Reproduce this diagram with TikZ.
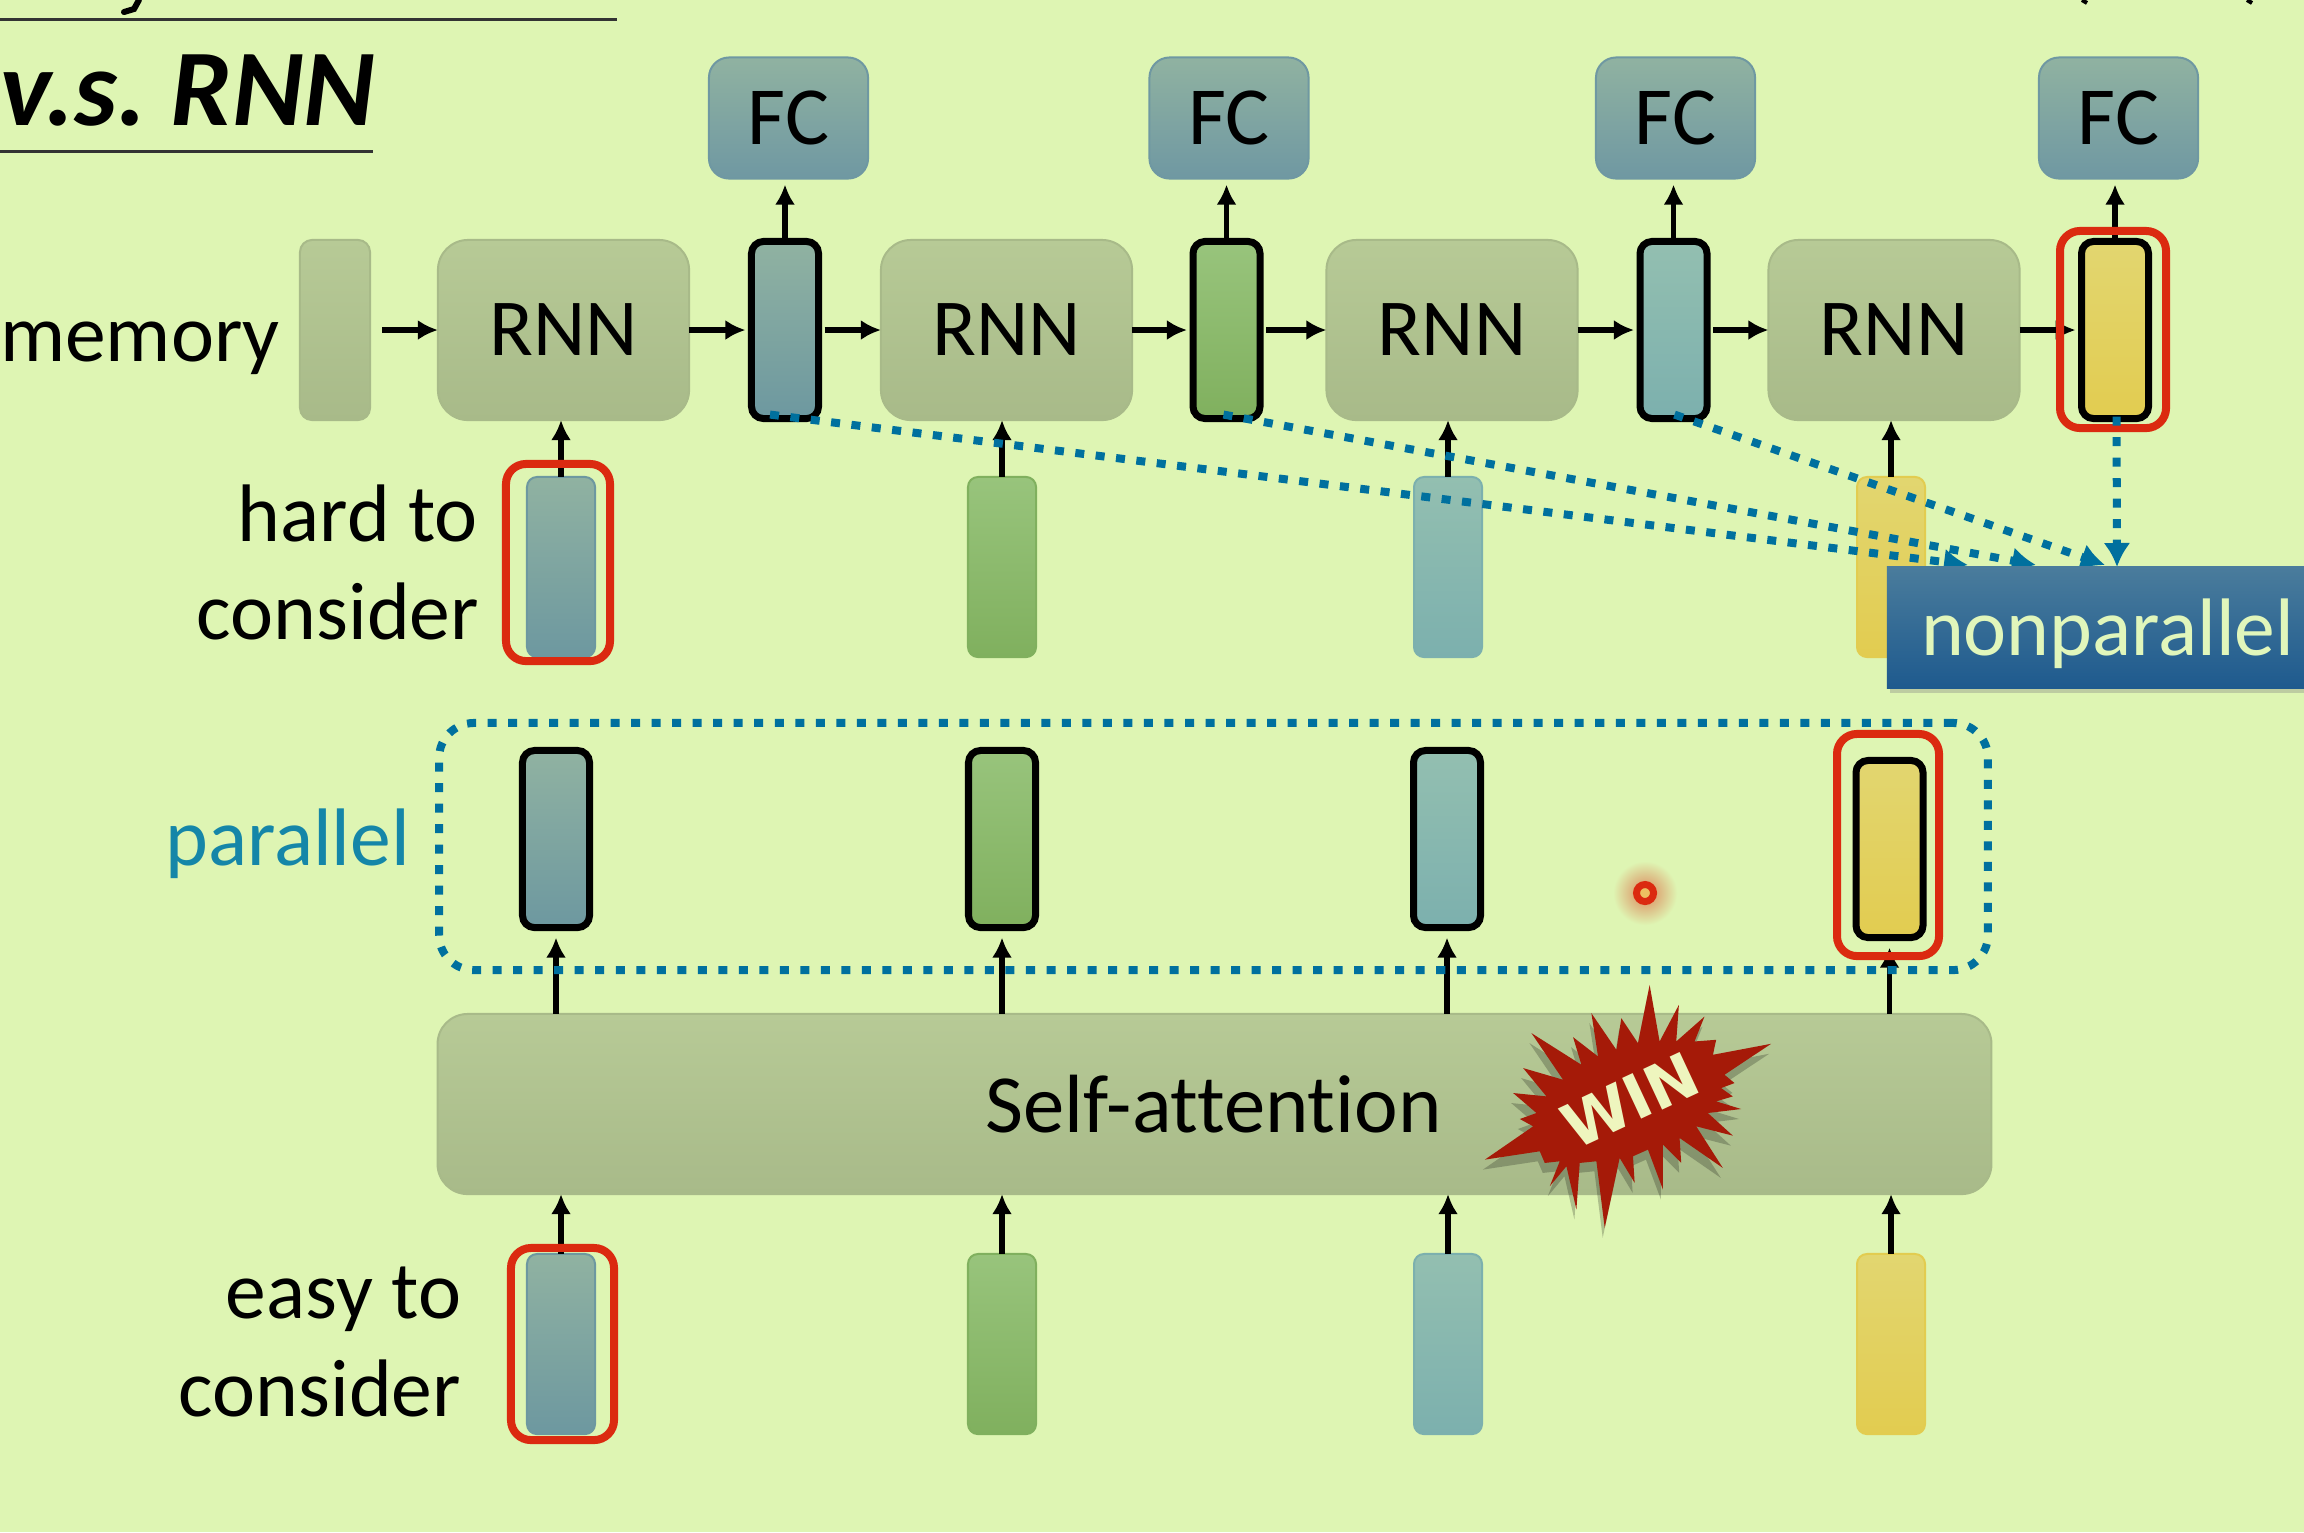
\documentclass[tikz,border=0pt]{standalone}
\usepackage{fontspec}
\setmainfont[Ligatures=NoCommon]{Carlito}
\newfontfamily\winfont{DejaVu Sans}
\usetikzlibrary{arrows.meta,shadows}
\definecolor{fondvert}{HTML}{DEF5B3}
\definecolor{bleudots}{HTML}{00709E}
\definecolor{rougecadre}{HTML}{DB2A10}
\definecolor{rougewin}{HTML}{A51A08}
\definecolor{textpar}{HTML}{1586A8}
\definecolor{textwin}{HTML}{EEF5BE}
\definecolor{npTop}{HTML}{4A7C9C}
\definecolor{npBot}{HTML}{1E5A8E}
\definecolor{griseTop}{HTML}{B7CA96}
\definecolor{griseBot}{HTML}{A8BA89}
\definecolor{fcTop}{HTML}{90B2A1}
\definecolor{fcBot}{HTML}{6F98A2}
\definecolor{bleuTop}{HTML}{90B2A1}
\definecolor{bleuBot}{HTML}{6D98A0}
\definecolor{vertTop}{HTML}{98C47C}
\definecolor{vertBot}{HTML}{80B05E}
\definecolor{turqTop}{HTML}{93BFB0}
\definecolor{turqBot}{HTML}{7CB0AE}
\definecolor{jauneTop}{HTML}{E2D670}
\definecolor{jauneBot}{HTML}{E2CC50}
\tikzset{
  bloc/.style={inner sep=0,outer sep=0,rounded corners=0.3cm,draw=#1Bot,top color=#1Top,bottom color=#1Bot,line width=0.02cm},
  vecteur/.style={inner sep=0,outer sep=0,rounded corners=0.1cm,minimum width=0.68cm,minimum height=1.8cm,line width=0.02cm,draw=#1Bot,top color=#1Top,bottom color=#1Bot},
  vecteurnoir/.style={inner sep=0,outer sep=0,rounded corners=0.12cm,minimum width=0.67cm,minimum height=1.77cm,line width=0.07cm,draw=black,top color=#1Top,bottom color=#1Bot},
  cadrerouge/.style={inner sep=0,outer sep=0,rounded corners=0.2cm,draw=rougecadre,line width=0.08cm,minimum width=#1},
  fleche/.style={->,line width=0.055cm},
  pointilles/.style={line width=0.08cm,bleudots,dash pattern=on 0.09cm off 0.115cm,-{Latex[length=0.24cm,width=0.27cm]}},
  etiquette/.style={inner sep=0,outer sep=0,font=\fontsize{23.2}{27}\selectfont}
}
\begin{document}
\begin{tikzpicture}[x=0.01cm,y=-0.01cm,>={Latex[length=0.2cm,width=0.2cm]}]
  \pgfmathsetmacro{\largeur}{2304}
  \pgfmathsetmacro{\hauteur}{1532}
  \fill[fondvert] (0,0) rectangle (\largeur,\hauteur);
  \useasboundingbox (0,0) rectangle (\largeur,\hauteur);
  % titre
  \draw[line width=0.03cm,black!80] (0,19) -- (617,19);
  \draw[line width=0.03cm,black!80] (0,151) -- (373,151);
  \draw[line width=0.06cm,line cap=round] (139,0) -- (134,9) -- (124,12);
  \draw[line width=0.04cm] (2082,0) -- (2087,3);
  \draw[line width=0.04cm] (2247,0) -- (2252,3);
  \node[anchor=base west,inner sep=0] (titre) at (0,125) {\fontsize{31}{34}\selectfont\bfseries\itshape v.s.\hspace{-0.08em} RNN};
  % ligne du haut
  \node[bloc=grise,minimum width=0.7cm,minimum height=1.8cm,rounded corners=0.12cm] (mem) at (335,330) {};
  \node[etiquette,anchor=base west] (labmem) at (0,361) {memory};
  \foreach \i/\xr/\xv/\xf/\xe/\col in {1/563.5/785/788.5/561/bleu,2/1006.5/1226.5/1229/1002/vert,3/1452/1673.5/1675.5/1448/turq,4/1894/2115/2118.5/1891/jaune}{
    \node[bloc=grise,minimum width=2.51cm,minimum height=1.8cm] (rnn\i) at (\xr,330) {\raisebox{-0.03cm}{\fontsize{23}{27}\selectfont RNN}};
    \node[vecteurnoir=\col] (vh\i) at (\xv,330) {};
    \node[bloc=fc,minimum width=1.59cm,minimum height=1.21cm,rounded corners=0.2cm] (fc\i) at (\xf,118) {\raisebox{-0.03cm}{\fontsize{23.5}{27}\selectfont FC}};
    \node[vecteur=\col] (em\i) at (\xe,567) {};
    \node[vecteur=\col] (eb\i) at (\xe,1344) {};
  }
  \node[vecteurnoir=bleu] (vp1) at (556,839) {};
  \node[vecteurnoir=vert] (vp2) at (1002,839) {};
  \node[vecteurnoir=turq] (vp3) at (1447,839) {};
  \node[vecteurnoir=jaune] (vp4) at (1889.5,849) {};
  \node[bloc=grise,minimum width=15.53cm,minimum height=1.8cm] (self) at (1214.5,1104) {};
  \node[anchor=base west,inner sep=0,font=\fontsize{23.5}{27}\selectfont] (labself) at (985,1132) {Self-attention};
  % fleches
  \draw[fleche,shorten <=0.12cm] (mem) -- (rnn1);
  \foreach \i in {1,2,3,4}{
    \draw[fleche,shorten >=0.06cm] (rnn\i.east) -- (vh\i.west);
    \draw[fleche,shorten >=0.06cm] (vh\i.north) -- (vh\i.north|-fc\i.south);
    \draw[fleche] (em\i.north) -- (rnn\i.south-|em\i.north);
    \draw[fleche,shorten >=0.1cm] (self.north-|vp\i.south) -- (vp\i.south);
    \draw[fleche] (eb\i.north) -- (self.south-|eb\i.north);
  }
  \foreach \i/\j in {1/2,2/3,3/4}
    \draw[fleche,shorten <=0.06cm] (vh\i.east) -- (rnn\j.west);
  % textes
  \node[etiquette,anchor=base east] (labha) at (478,541) {hard to};
  \node[etiquette,anchor=base east] (labhb) at (479,639) {consider};
  \node[etiquette,anchor=base east] (labea) at (461,1318) {easy to};
  \node[etiquette,anchor=base east] (labeb) at (461,1416) {consider};
  \node[etiquette,anchor=base east,textpar] (labpar) at (410,865) {parallel};
  % cadres rouges
  \node[cadrerouge=1.04cm,minimum height=1.97cm] (rha) at (558,562.5) {};
  \node[cadrerouge=1.03cm,minimum height=1.92cm] (rbas) at (562.5,1344) {};
  \node[cadrerouge=1.06cm,minimum height=1.97cm] (rhaut) at (2113,329.5) {};
  \node[cadrerouge=1.02cm,minimum height=2.22cm] (rpar) at (1888,845) {};
  % cadre parallele
  \node[inner sep=0,outer sep=0,minimum width=15.48cm,minimum height=2.47cm,rounded corners=0.35cm,draw=bleudots,line width=0.08cm,dash pattern=on 0.09cm off 0.115cm] (cadrepar) at (1213.5,846.5) {};
  % pointilles
  \coordinate (ciba) at (1968,565);
  \coordinate (cibb) at (2036,565);
  \coordinate (cibc) at (2105,565);
  \coordinate (cibd) at (2117,567);
  \draw[pointilles] ([shift={(-15,-4)}]vh1.south) -- (ciba);
  \draw[pointilles] ([shift={(-3,-4)}]vh2.south) -- (cibb);
  \draw[pointilles] ([shift={(1,-4)}]vh3.south) -- (cibc);
  \draw[pointilles] ([shift={(1.5,-2)}]vh4.south) -- (cibd);
  \node[inner sep=0,outer sep=0,minimum width=4.17cm,minimum height=1.21cm,top color=npTop,bottom color=npBot,drop shadow={shadow xshift=0.03cm,shadow yshift=-0.05cm,opacity=0.35}] (nonpar) at (2095.5,627.5) {};
  \node[etiquette,anchor=base west,text=fondvert!90!white] (labnp) at (1921,655) {nonparallel};
  % pointeur
  \shade[inner color=rougecadre!55!fondvert,outer color=fondvert] (1645,893) circle (0.32cm);
  \node[circle,inner sep=0,minimum size=0.17cm,draw=rougecadre,line width=0.07cm,fill=orange!45!fondvert] (pointeur) at (1645,893) {};
  % etoile
  \foreach \dcx/\dcy/\coul/\opac in {-2/10/black/0.22,0/0/rougewin/1}
  \fill[\coul,opacity=\opac,shift={(1400+\dcx,900+\dcy)},x=0.00333cm,y=-0.00333cm]
    (750,255) -- (780,425) -- (838,315) -- (830,425) -- (915,350) -- (885,425) -- (950,420) -- (940,465) -- (1115,432) -- (975,525) -- (1005,550) -- (965,565) -- (1000,590) -- (950,605) -- (1025,628) -- (925,640) -- (1000,708) -- (890,680) -- (970,805) -- (840,715) -- (845,790) -- (790,735) -- (790,870) -- (745,750) -- (700,770) -- (705,850) -- (660,775) -- (615,985) -- (590,785) -- (540,790) -- (530,930) -- (500,800) -- (450,860) -- (480,785) -- (435,790) -- (420,755) -- (255,780) -- (400,680) -- (360,658) -- (410,640) -- (340,580) -- (440,590) -- (370,505) -- (490,540) -- (395,400) -- (545,495) -- (520,412) -- (595,470) -- (575,340) -- (650,450) -- (665,355) -- (715,430) -- cycle;
  \node[inner sep=0,rotate=25,text=textwin,font=\winfont\bfseries\fontsize{17.5}{20}\selectfont] (win) at (1630,1100) {WIN};
\end{tikzpicture}
\end{document}
